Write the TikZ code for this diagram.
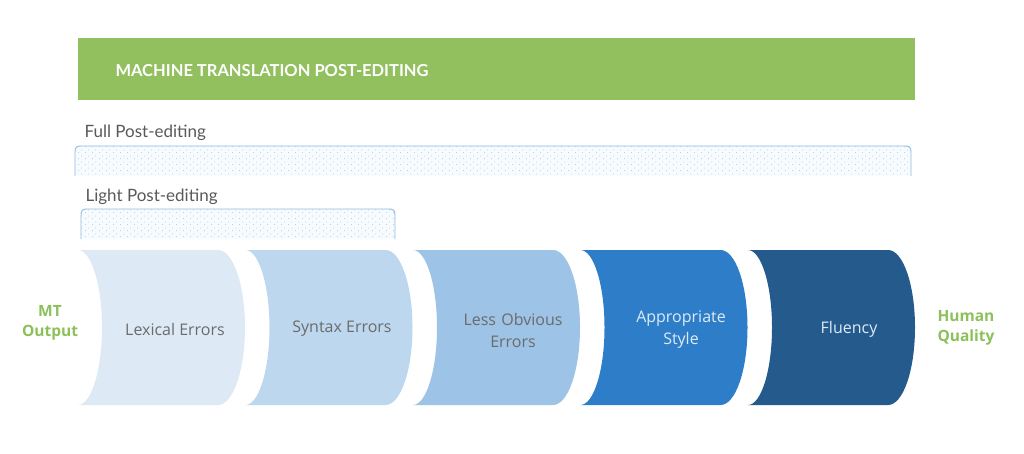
\documentclass[tikz,border=0pt]{standalone}
\usepackage{fontspec}
\setmainfont{Open Sans}
\newfontfamily\lab{Lato}
\usetikzlibrary{patterns.meta}
\definecolor{bannergreen}{HTML}{92C05F}
\definecolor{labgreen}{HTML}{8CC05A}
\definecolor{labgray}{HTML}{595959}
\definecolor{segA}{HTML}{DDEAF6}
\definecolor{segB}{HTML}{BDD7EE}
\definecolor{segC}{HTML}{9DC3E6}
\definecolor{segD}{HTML}{2E7DC8}
\definecolor{segE}{HTML}{245A8C}
\definecolor{darktxt}{HTML}{6B6B6B}
\definecolor{lighttxt}{HTML}{DEEBF7}
\definecolor{bracketline}{HTML}{8DB9E2}
\definecolor{dotfill}{HTML}{F8FBFE}
\definecolor{dotcol}{HTML}{A9CBEC}
\tikzdeclarepattern{name=sparsedots, type=uncolored,
  bounding box={(0pt,0pt) and (7pt,6pt)}, tile size={(7pt,6pt)},
  code={\pgfpathcircle{\pgfpoint{1.75pt}{1.5pt}}{0.55pt}\pgfpathcircle{\pgfpoint{5.25pt}{4.5pt}}{0.55pt}\pgfusepath{fill}}}
\begin{document}
\begin{tikzpicture}[x=1pt,y=-1pt,
  segtext/.style={font=\fontsize{16}{22}\selectfont, align=center},
  sidelab/.style={font=\fontsize{15.5}{19.5}\selectfont\bfseries, text=labgreen, align=center},
  bracketlab/.style={font=\lab\fontsize{17}{19}\selectfont, text=labgray, anchor=west},
  bracketbox/.style={draw=bracketline, line width=0.9pt, fill=dotfill, postaction={pattern=sparsedots, pattern color=dotcol}}
]
\useasboundingbox (0,0) rectangle (1024,454);
% banner
\fill[bannergreen] (78,38) rectangle (915,100);
\node[font=\lab\bfseries\fontsize{16.5}{19}\selectfont, text=white, anchor=west] (title) at (112,71) {MACHINE TRANSLATION POST-EDITING};
% brackets
\node[bracketlab] (full) at (81,133) {Full Post-editing};
\path[bracketbox] (75,176) -- (75,152) .. controls (75,147) and (77,146) .. (81,146) -- (905,146) .. controls (909,146) and (911,147) .. (911,152) -- (911,176);
\node[bracketlab] (light) at (82,197) {Light Post-editing};
\path[bracketbox] (81,239) -- (81,215) .. controls (81,210) and (83,209) .. (87,209) -- (389,209) .. controls (393,209) and (395,210) .. (395,215) -- (395,239);
% segments
\def\T{250}\def\B{405}\def\M{327.5}
\foreach \L/\c in {78/segA,245.5/segB,413/segC,580.5/segD,748/segE}{
  \pgfmathsetmacro{\R}{\L+140}
  \fill[\c] (\L,\T) -- (\R,\T)
    .. controls ({\R+15},\T) and ({\R+27},{\M-43}) .. ({\R+27},\M)
    .. controls ({\R+27},{\M+43}) and ({\R+15},\B) .. (\R,\B)
    -- (\L,\B)
    .. controls ({\L+13},\B) and ({\L+24},{\M+43}) .. ({\L+24},\M)
    .. controls ({\L+24},{\M-43}) and ({\L+13},\T) .. (\L,\T) -- cycle;
}
\node[segtext, text=darktxt] (s1) at (175,329) {Lexical Errors};
\node[segtext, text=darktxt] (s2) at (342,329) {Syntax Errors};
\node[segtext, text=darktxt, text width=130pt] (s3) at (513,330) {Less Obvious\\Errors};
\node[segtext, text=lighttxt, text width=130pt] (s4) at (681,330) {Appropriate\\Style};
\node[segtext, text=lighttxt] (s5) at (849,329) {Fluency};
% side labels
\node[sidelab] (mt) at (50,323) {MT\\Output};
\node[sidelab] (hq) at (966,328) {Human\\Quality};
\end{tikzpicture}
\end{document}
